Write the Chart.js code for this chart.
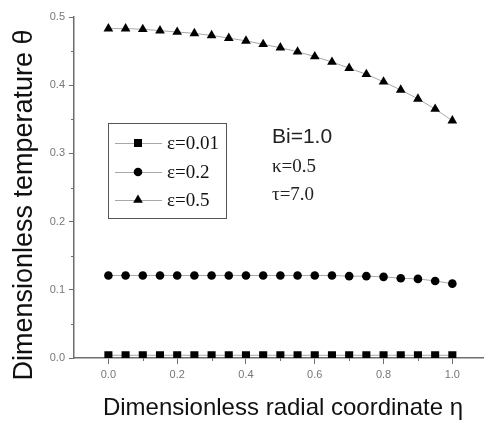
<!DOCTYPE html>
<html><head><meta charset="utf-8">
<script src="https://cdn.jsdelivr.net/npm/chart.js@4.4.1/dist/chart.umd.min.js"></script>
<style>html,body{margin:0;padding:0;background:#fff;}#wrap{width:489px;height:422px;}</style>
</head><body><div id="wrap"><canvas id="c" width="489" height="422"></canvas></div>
<script>
const eta = [0.0,0.05,0.1,0.15,0.2,0.25,0.3,0.35,0.4,0.45,0.5,0.55,0.6,0.65,0.7,0.75,0.8,0.85,0.9,0.95,1.0];
const theta001 = [0.004,0.004,0.004,0.004,0.004,0.004,0.004,0.004,0.004,0.004,0.004,0.004,0.004,0.004,0.004,0.004,0.004,0.004,0.004,0.004,0.004];
const theta02 = [0.121,0.121,0.121,0.121,0.121,0.121,0.121,0.121,0.121,0.121,0.121,0.121,0.121,0.121,0.120,0.120,0.119,0.117,0.116,0.113,0.109];
const theta05 = [0.483,0.483,0.482,0.480,0.478,0.476,0.473,0.469,0.465,0.460,0.455,0.449,0.442,0.434,0.425,0.416,0.405,0.393,0.380,0.365,0.348];
const seriesLabels = ['\u03b5=0.01','\u03b5=0.2','\u03b5=0.5'];
const xTicks = [0.0,0.2,0.4,0.6,0.8,1.0];
const yTicks = [0.0,0.1,0.2,0.3,0.4,0.5];
const notes = ['Bi=1.0','\u03ba=0.5','\u03c4=7.0'];

const lineColor = '#a8a8a8';
const axisColor = '#6e6e6e';
function mk(label, ys, style, r){
  return {label, data: eta.map((x,i)=>({x, y: ys[i]})), borderColor: lineColor, borderWidth: 1,
    pointStyle: style, pointRadius: r, pointBackgroundColor: '#000', pointBorderColor: '#000', pointBorderWidth: 0,
    showLine: true, tension: 0};
}
const datasets = [mk(seriesLabels[0], theta001, 'rect', 5.7), mk(seriesLabels[1], theta02, 'circle', 4.3), mk(seriesLabels[2], theta05, 'triangle', 5.6)];

const extras = {
  id: 'extras',
  afterDraw(chart){
    const ctx = chart.ctx, xs = chart.scales.x, ys = chart.scales.y;
    ctx.save();
    // minor ticks
    ctx.strokeStyle = axisColor; ctx.lineWidth = 1;
    [0.1,0.3,0.5,0.7,0.9].forEach(v=>{const p=Math.round(xs.getPixelForValue(v))+0.5; ctx.beginPath(); ctx.moveTo(p, ys.bottom); ctx.lineTo(p, ys.bottom+3); ctx.stroke();});
    [0.05,0.15,0.25,0.35,0.45].forEach(v=>{const p=Math.round(ys.getPixelForValue(v))+0.5; ctx.beginPath(); ctx.moveTo(xs.left, p); ctx.lineTo(xs.left-3, p); ctx.stroke();});
    // legend box
    const bx=108, by=123, bw=118, bh=95;
    ctx.strokeStyle = '#555'; ctx.lineWidth = 1;
    ctx.strokeRect(bx+0.5, by+0.5, bw, bh);
    const rows=[143,172,200];
    chart.data.datasets.forEach((ds,i)=>{
      const yy = rows[i];
      ctx.strokeStyle = lineColor; ctx.lineWidth=1;
      ctx.beginPath(); ctx.moveTo(115, yy+0.5); ctx.lineTo(162, yy+0.5); ctx.stroke();
      ctx.fillStyle='#000'; ctx.strokeStyle='#000';
      Chart.helpers.drawPoint(ctx, {pointStyle: ds.pointStyle, rotation:0, borderWidth:0, radius: ds.pointRadius}, 138, yy);
      ctx.fillStyle='#111'; ctx.font = '19px "Liberation Serif", "Times New Roman", serif';
      ctx.textBaseline='middle'; ctx.textAlign='left';
      ctx.fillText(ds.label, 167, yy+1);
    });
    // notes
    ctx.fillStyle='#222'; ctx.textAlign='left'; ctx.textBaseline='middle';
    ctx.font = '21px "Liberation Sans", Arial, sans-serif';
    ctx.fillText(notes[0], 272, 137);
    ctx.font = '19px "Liberation Serif", "Times New Roman", serif';
    ctx.fillText(notes[1], 272, 167);
    ctx.fillText(notes[2], 272, 195);
    // y title
    ctx.save();
    ctx.translate(25, 205); ctx.rotate(-Math.PI/2);
    ctx.textAlign='center'; ctx.textBaseline='middle';
    ctx.font = '27px "Liberation Sans", Arial, sans-serif'; ctx.fillStyle='#111';
    ctx.fillText('Dimensionless temperature \u03b8', 0, 0);
    ctx.restore();
    // x title
    ctx.textAlign='center'; ctx.textBaseline='middle';
    ctx.font = '24px "Liberation Sans", Arial, sans-serif'; ctx.fillStyle='#111';
    ctx.fillText('Dimensionless radial coordinate \u03b7', 283, 408);
    ctx.restore();
  }
};

new Chart(document.getElementById('c'), {
  type: 'scatter',
  data: { datasets },
  options: {
    responsive: false, animation: false, devicePixelRatio: 1,
    layout: { padding: { top: 17, right: 0, left: 0, bottom: 0 } },
    plugins: { legend: { display: false }, tooltip: { enabled: false } },
    scales: {
      x: { type: 'linear', min: -0.1, max: 1.09,
        afterBuildTicks(s){ s.ticks = xTicks.map(v=>({value:v})); },
        afterFit(s){ s.height = 64; },
        grid: { drawOnChartArea: false, tickLength: 6, color: axisColor, tickColor: axisColor },
        border: { color: axisColor, width: 1.5 },
        ticks: { color: '#777', font: { size: 11, family: '"Liberation Sans", Arial, sans-serif' }, padding: 4, maxRotation: 0,
          callback: v => v.toFixed(1) } },
      y: { type: 'linear', min: 0, max: 0.5,
        afterBuildTicks(s){ s.ticks = yTicks.map(v=>({value:v})); },
        afterFit(s){ s.width = 74; },
        grid: { drawOnChartArea: false, tickLength: 5, color: axisColor, tickColor: axisColor },
        border: { color: axisColor, width: 1.5 },
        ticks: { color: '#777', font: { size: 11, family: '"Liberation Sans", Arial, sans-serif' }, padding: 4,
          callback: v => v.toFixed(1) } }
    }
  },
  plugins: [extras]
});
</script></body></html>
